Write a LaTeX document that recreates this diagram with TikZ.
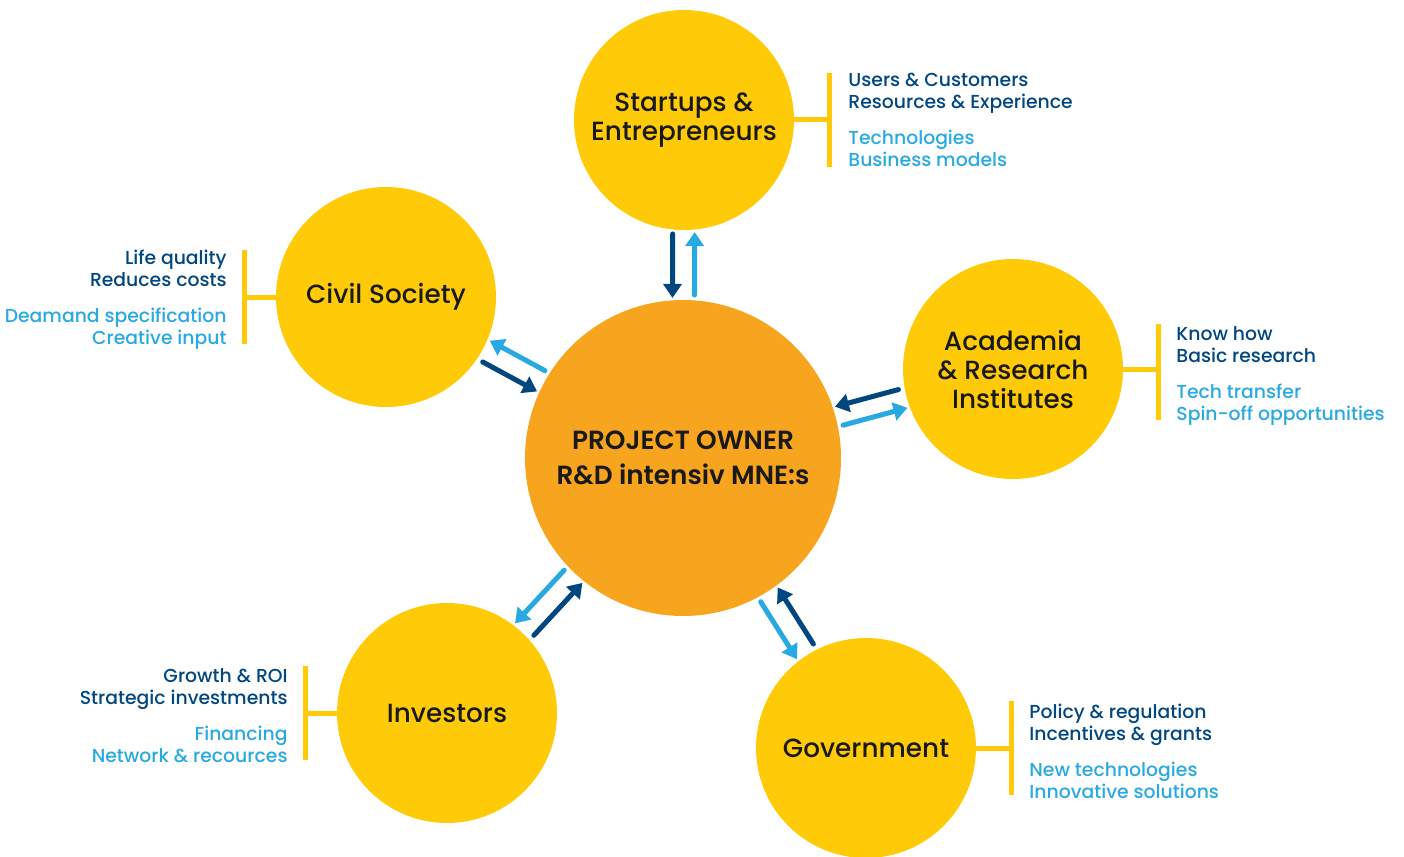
\documentclass[tikz,border=0pt]{standalone}
\usepackage{fontspec}
\setmainfont{Poppins}
\newfontfamily\midfont{Poppins Medium}
\newfontfamily\semifont{Poppins SemiBold}
\usetikzlibrary{calc}
\usetikzlibrary{arrows.meta}
\definecolor{sun}{HTML}{FFCB08}
\definecolor{amber}{HTML}{F7A51F}
\definecolor{navy}{HTML}{00467F}
\definecolor{sky}{HTML}{29A9E1}
\tikzset{
  party/.style={circle, fill=sun, minimum size=220pt, inner sep=0pt, align=center, text=black!90, font=\midfont\fontsize{26.3}{29}\selectfont},
  bar/.style={sun, line width=5pt},
  notes/.style={inner sep=0pt, text=navy, yshift=-3pt, font=\midfont\fontsize{18.8}{22}\selectfont},
  darr/.style={navy, line width=5pt, line cap=round, -{Triangle[width=18pt,length=14pt]}},
  larr/.style={sky, line width=5pt, line cap=round, -{Triangle[width=18pt,length=14pt]}}
}

\begin{document}
\begin{tikzpicture}[x=1pt,y=-1pt]

\useasboundingbox (0,0) rectangle (1404,856);

\node[circle, fill=amber, minimum size=316pt, inner sep=0pt, align=center, text=black!90, font=\semifont\fontsize{26.3}{35}\selectfont] (owner) at (683,458) {PROJECT OWNER\\R\&D intensiv MNE:s};

\node[party] (start) at (684,120) {Startups \&\\Entrepreneurs};
\node[party] (civil) at (386,297) {Civil Society};
\node[party] (acad) at (1013,369) {Academia\\\& Research\\Institutes};
\node[party] (invest) at (447,713) {Investors};
\node[party] (gov) at (866,748) {Government};

% brackets
\draw[bar] (start.east) -- ++(35,0) coordinate (startB);
\draw[bar] ($(startB)+(0,-47)$) -- ($(startB)+(0,47)$);
\draw[bar] (civil.west) -- ++(-31,0) coordinate (civilB);
\draw[bar] ($(civilB)+(0,-47)$) -- ($(civilB)+(0,47)$);
\draw[bar] (acad.east) -- ++(35,0) coordinate (acadB);
\draw[bar] ($(acadB)+(0,-45)$) -- ($(acadB)+(0,51)$);
\draw[bar] (invest.west) -- ++(-31,0) coordinate (investB);
\draw[bar] ($(investB)+(0,-47)$) -- ($(investB)+(0,47)$);
\draw[bar] (gov.east) -- ++(35,0) coordinate (govB);
\draw[bar] ($(govB)+(0,-47)$) -- ($(govB)+(0,47)$);

\node[notes, anchor=west, align=left] (startN) at ($(startB)+(19,-3)$) {Users \& Customers\\Resources \& Experience\\[14pt]\color{sky}Technologies\\\color{sky}Business models};
\node[notes, anchor=east, align=right] (civilN) at ($(civilB)+(-18,0)$) {Life quality\\Reduces costs\\[14pt]\color{sky}Deamand specification\\\color{sky}Creative input};
\node[notes, anchor=west, align=left] (acadN) at ($(acadB)+(18,4)$) {Know how\\Basic research\\[14pt]\color{sky}Tech transfer\\\color{sky}Spin-off opportunities};
\node[notes, anchor=east, align=right] (investN) at ($(investB)+(-18,0)$) {Growth \& ROI\\Strategic investments\\[14pt]\color{sky}Financing\\\color{sky}Network \& recources};
\node[notes, anchor=west, align=left] (govN) at ($(govB)+(18,0)$) {Policy \& regulation\\Incentives \& grants\\[14pt]\color{sky}New technologies\\\color{sky}Innovative solutions};

% arrows to and from the owner
\draw[darr, shorten <=114pt, shorten >=160pt] ($(start)!11pt!-90:(owner)$) -- ($(owner)!11pt!90:(start)$);
\draw[larr, shorten <=163pt, shorten >=112pt] ($(owner)!11pt!-90:(start)$) -- ($(start)!11pt!90:(owner)$);
\draw[darr, shorten <=116pt, shorten >=160pt] ($(civil)!11pt!-90:(owner)$) -- ($(owner)!11pt!90:(civil)$);
\draw[larr, shorten <=163pt, shorten >=112pt] ($(owner)!11pt!-90:(civil)$) -- ($(civil)!11pt!90:(owner)$);
\draw[darr, shorten <=116pt, shorten >=160pt] ($(acad)!10pt!-90:(owner)$) -- ($(owner)!10pt!90:(acad)$);
\draw[larr, shorten <=163pt, shorten >=112pt] ($(owner)!10pt!-90:(acad)$) -- ($(acad)!10pt!90:(owner)$);
\draw[darr, shorten <=116pt, shorten >=160pt] ($(invest)!11pt!-90:(owner)$) -- ($(owner)!11pt!90:(invest)$);
\draw[larr, shorten <=163pt, shorten >=112pt] ($(owner)!11pt!-90:(invest)$) -- ($(invest)!11pt!90:(owner)$);
\draw[darr, shorten <=116pt, shorten >=160pt] ($(gov)!11pt!-90:(owner)$) -- ($(owner)!11pt!90:(gov)$);
\draw[larr, shorten <=163pt, shorten >=112pt] ($(owner)!11pt!-90:(gov)$) -- ($(gov)!11pt!90:(owner)$);

\end{tikzpicture}
\end{document}
